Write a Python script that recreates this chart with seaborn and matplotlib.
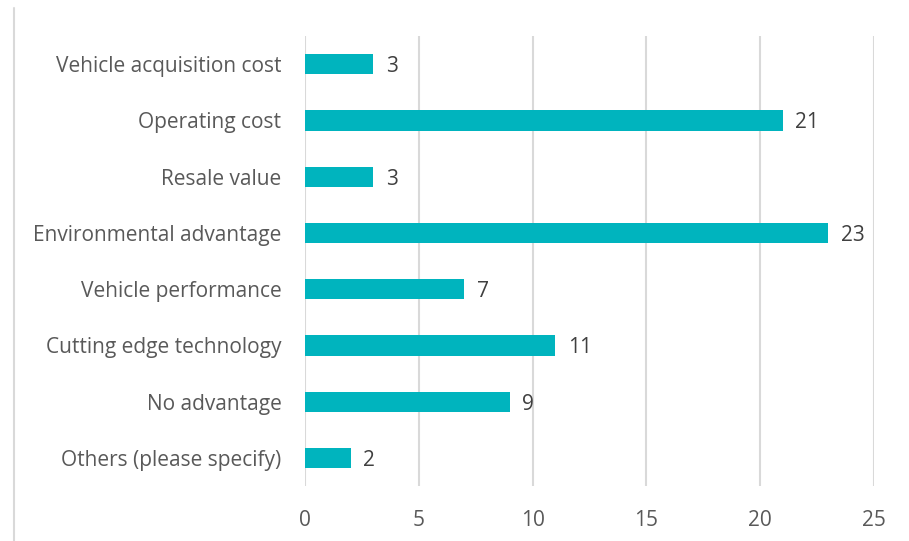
import matplotlib
matplotlib.use("Agg")
import matplotlib.pyplot as plt
import seaborn as sns
import pandas as pd
from matplotlib.lines import Line2D

categories = [
    "Vehicle acquisition cost",
    "Operating cost",
    "Resale value",
    "Environmental advantage",
    "Vehicle performance",
    "Cutting edge technology",
    "No advantage",
    "Others (please specify)",
]
counts = [3, 21, 3, 23, 7, 11, 9, 2]
x_ticks = [0, 5, 10, 15, 20, 25]

df = pd.DataFrame({"category": categories, "count": counts})

sns.set_theme(style="white")
plt.rcParams["font.family"] = ["Open Sans", "DejaVu Sans"]

fig = plt.figure(figsize=(9.09, 5.41), dpi=100)
ax = fig.add_axes([305 / 909, 1 - 486 / 541, (874 - 305) / 909, (486 - 36) / 541])

bar_color = "#00B4BE"
sns.barplot(data=df, x="count", y="category", color=bar_color, width=0.36,
            saturation=1, ax=ax, edgecolor="none", zorder=3)

ax.set_xlim(0, 25)
ax.set_xticks(x_ticks)
ax.set_ylim(len(categories) - 0.5, -0.5)
ax.grid(axis="x", color="#D9D9D9", linewidth=1.5, zorder=0)
ax.grid(axis="y", visible=False)
for s in ax.spines.values():
    s.set_visible(False)
ax.set_xlabel("")
ax.set_ylabel("")
ax.tick_params(axis="both", length=0, labelsize=15, labelcolor="#595959")
ax.tick_params(axis="x", pad=17)
ax.tick_params(axis="y", pad=17)

for i, v in enumerate(counts):
    ax.text(v + 0.55, i, str(v), va="center_baseline", ha="left", fontsize=15, color="#404040")

# Outer chart frame edge on the left
fig.add_artist(Line2D([14 / 909, 14 / 909], [0, 1 - 8 / 541], transform=fig.transFigure,
                      color="#D9D9D9", linewidth=1.5))

fig.savefig("out.png", dpi=100)
